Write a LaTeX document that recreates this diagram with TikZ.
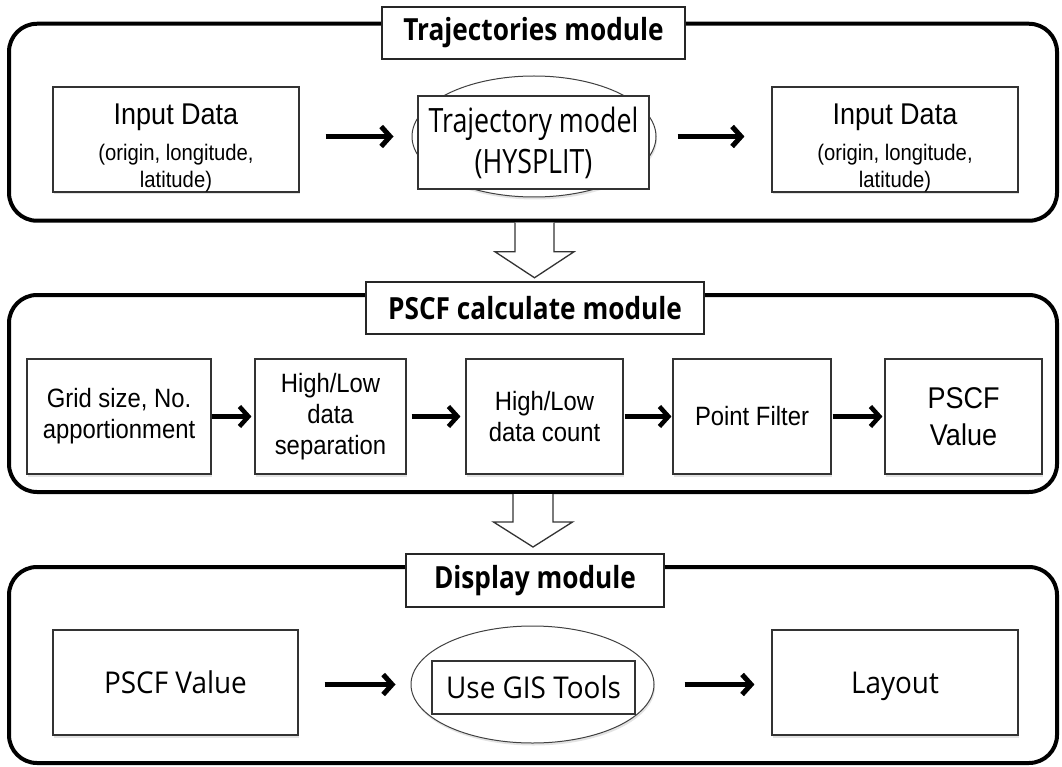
\documentclass[tikz,border=0pt]{standalone}
\usepackage{fontspec}
\setmainfont{Liberation Sans}
\newfontfamily\narrowsans[FakeStretch=0.9]{Liberation Sans}
\newfontfamily\titlefont[FakeStretch=0.86]{Open Sans}
\newfontfamily\gothicA[FakeStretch=0.80]{Open Sans}
\newfontfamily\gothicB[FakeStretch=0.93]{Open Sans}
\usetikzlibrary{arrows.meta,shapes.geometric,shadows,calc}

\begin{document}
\begin{tikzpicture}[x=1pt, y=-1pt,
  panel/.style={draw=black, line width=4pt, rounded corners=28pt,
    minimum width=1048pt, minimum height=197pt, inner sep=0pt},
  title/.style={draw=black!85, line width=1.1pt, fill=white, inner sep=0pt,
    font=\titlefont\bfseries\fontsize{30.5}{36}\selectfont},
  softshadow/.style={drop shadow={opacity=0.22, shadow xshift=1pt, shadow yshift=-2.5pt}},
  box/.style={draw=black!80, line width=1.1pt, fill=white, inner sep=0pt,
    align=center, softshadow},
  innerbox/.style={draw=black!80, line width=1.1pt, fill=white, inner sep=0pt,
    align=center},
  oval/.style={ellipse, draw=black!75, line width=1pt, fill=white, inner sep=0pt, softshadow},
  arial/.style={font=\narrowsans\fontsize{26.5}{31}\selectfont},
  bigarial/.style={font=\narrowsans\fontsize{30}{34}\selectfont},
  smallarial/.style={font=\narrowsans\fontsize{22.5}{27}\selectfont},
  gothictop/.style={font=\gothicA\fontsize{33.5}{41}\selectfont},
  gothicbottom/.style={font=\gothicB\fontsize{30}{36}\selectfont,
    text height=28pt, text depth=6pt},
  txt/.style={anchor=base, inner sep=0pt},
  flow/.style={draw=black, line width=5pt, -{Straight Barb[length=9pt, width=20pt]}},
  hollow/.style={draw=black!80, line width=1.3pt, fill=white, line join=miter}
]
\useasboundingbox (0,0) rectangle (1062,767);
\fill[white] (0,0) rectangle (1062,767);

% module frames
\node[panel] (p1) at (533,122.25) {};
\node[panel] (p2) at (533,393.5) {};
\node[panel, minimum height=196pt] (p3) at (533,665) {};

% module titles
\node[title, minimum width=303pt, minimum height=52pt] (t1) at (533.5,33) {Trajectories module};
\node[title, minimum width=338pt, minimum height=52pt] (t2) at (535,308) {PSCF calculate module};
\node[title, minimum width=258pt, minimum height=53pt] (t3) at (535,580.5) {Display module};

% trajectories module
\node[box, minimum width=246pt, minimum height=105pt] (in1) at (176,139.5) {};
\node[txt, bigarial] (in1a) at ($(in1.north)+(0,38)$) {Input Data};
\node[txt, smallarial] (in1b) at ($(in1.north)+(0,74)$) {(origin, longitude,};
\node[txt, smallarial] (in1c) at ($(in1.north)+(0,101)$) {latitude)};

\node[oval, minimum width=244pt, minimum height=121pt] (trajE) at (534,136.5) {};
\node[innerbox, gothictop, minimum width=231pt, minimum height=93pt] (traj) at (533.5,142.5)
  {Trajectory model\\(HYSPLIT)};

\node[box, minimum width=246pt, minimum height=105pt] (out) at (895,139.5) {};
\node[txt, bigarial] (outa) at ($(out.north)+(0,38)$) {Input Data};
\node[txt, smallarial] (outb) at ($(out.north)+(0,74)$) {(origin, longitude,};
\node[txt, smallarial] (outc) at ($(out.north)+(0,101)$) {latitude)};

\draw[flow] ($(in1.east |- trajE.center)+(26,0)$) -- ($(trajE.west)+(-18,0)$);
\draw[flow] ($(trajE.east)+(21,0)$) -- ($(out.west |- trajE.center)+(-27,0)$);

% hollow arrow between the first two modules
\coordinate (h1) at ($(p1.south)+(1.5,0)$);
\draw[hollow] (h1) +(-19.5,0) -- +(-19.5,29) -- +(-39.5,29) -- +(0,55)
  -- +(39.5,29) -- +(19.5,29) -- +(19.5,0);

% PSCF calculate module
\node[box, arial, minimum width=184pt, minimum height=115pt] (m1) at (119,416.5)
  {Grid size, No.\\apportionment};
\node[box, arial, minimum width=151pt, minimum height=115pt] (m2) at (330.5,416.5)
  {High/Low\\data\\separation};
\node[box, arial, minimum width=157pt, minimum height=115pt] (m3) at (544.5,416.5)
  {High/Low\\data count};
\node[box, arial, minimum width=158pt, minimum height=115pt] (m4) at (752,416.5)
  {Point Filter};
\node[box, minimum width=157pt, minimum height=115pt,
  font=\narrowsans\fontsize{30}{37}\selectfont] (m5) at (963.5,416.5) {PSCF\\Value};

\draw[flow, line width=4.5pt, shorten >=3pt] (m1) -- (m2);
\draw[flow, line width=4.5pt, shorten <=5pt, shorten >=5pt] (m2) -- (m3);
\draw[flow, line width=4.5pt, shorten <=1pt, shorten >=1pt] (m3) -- (m4);
\draw[flow, line width=4.5pt, shorten <=1pt, shorten >=2pt] (m4) -- (m5);

% hollow arrow between the last two modules
\coordinate (h2) at (p2.south);
\draw[hollow] (h2) +(-20,0) -- +(-20,28) -- +(-39.5,28) -- +(0,53)
  -- +(39.5,28) -- +(20,28) -- +(20,0);

% display module
\node[box, gothicbottom, minimum width=245pt, minimum height=105pt] (b1) at (175.5,682.5) {PSCF Value};
\node[oval, minimum width=243pt, minimum height=117pt] (gisE) at (532.5,684.5) {};
\node[innerbox, gothicbottom, minimum width=203pt, minimum height=53pt] (gis) at (533.5,687.5) {Use GIS Tools};
\node[box, gothicbottom, minimum width=246pt, minimum height=105pt] (lay) at (895,682.5) {Layout};

\draw[flow] ($(b1.east |- gisE.center)+(26,0)$) -- ($(gisE.west)+(-15,0)$);
\draw[flow] ($(gisE.east)+(30,0)$) -- ($(lay.west |- gisE.center)+(-17,0)$);
\end{tikzpicture}
\end{document}
